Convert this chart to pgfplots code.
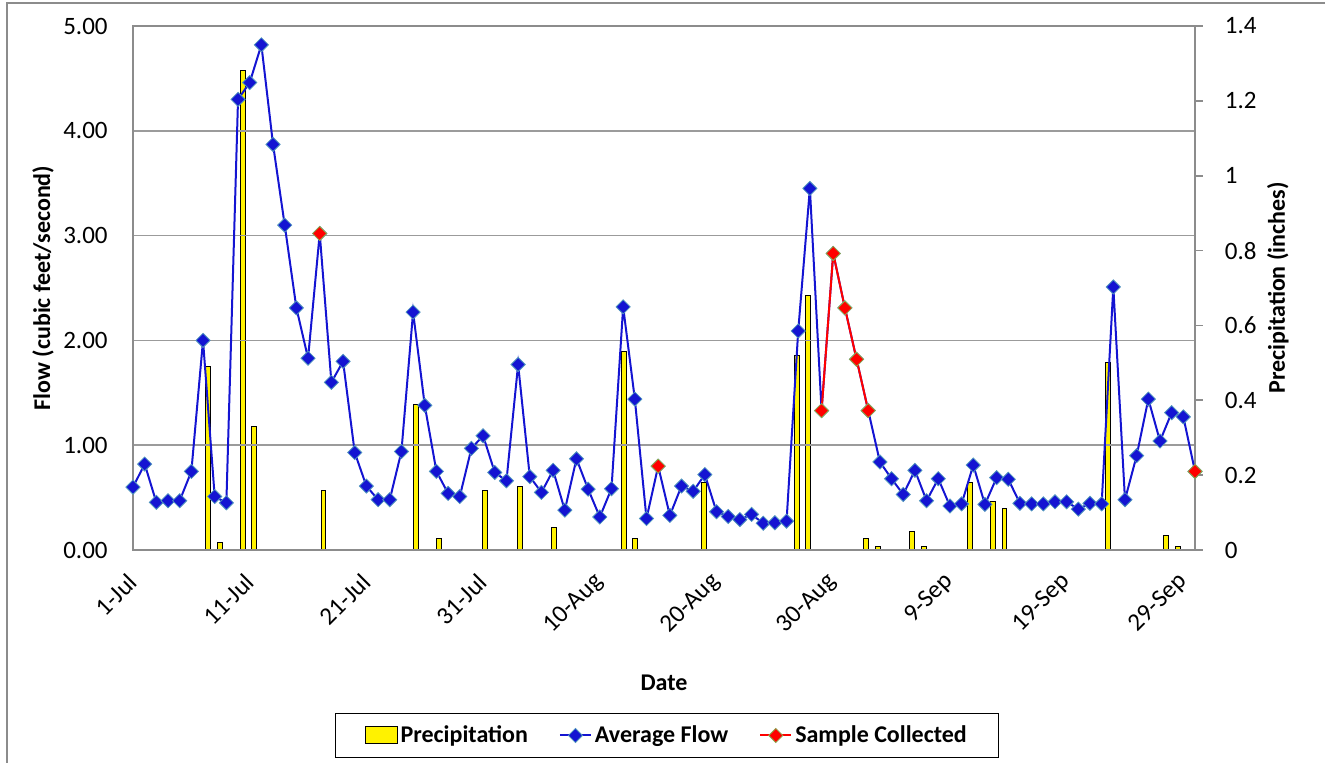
\documentclass[border=0pt]{standalone}
\usepackage{pgfplots}
\pgfplotsset{compat=1.18}
\usepackage{fontspec}
\setmainfont{Carlito}
\definecolor{flowblue}{RGB}{20,20,210}
\definecolor{markedge}{RGB}{80,150,190}
\definecolor{redline}{RGB}{255,0,0}
\definecolor{rededge}{RGB}{140,170,80}
\definecolor{axgray}{RGB}{140,140,140}
\definecolor{gridgray}{RGB}{155,155,155}
\begin{document}
\begin{tikzpicture}
\pgfplotsset{
 common/.style={
  scale only axis, width=531pt, height=262pt,
  at={(66.5pt,106.5pt)}, anchor=south west,
  xmin=0, xmax=91,
  /pgf/number format/assume math mode=true,
  tick label style={font=\fontsize{12.5}{14}\selectfont},
  label style={font=\bfseries\fontsize{12}{14}\selectfont},
  axis line style={axgray, line width=0.8pt},
  every tick/.style={axgray, line width=0.8pt},
 }
}
% secondary axis: precipitation (bars, right)
\begin{axis}[common,
  axis x line=none,
  axis y line*=right,
  ymin=0, ymax=1.4,
  ytick={0,0.2,0.4,0.6,0.8,1,1.2,1.4},
  tick align=outside,
  major tick length=3.75pt,
  yticklabel style={inner sep=0pt, anchor=west},
  yticklabel shift=11pt,
  ylabel={Precipitation (inches)},
  ylabel style={at={(axis description cs:1.078,0.5)}, anchor=center, rotate=0},
]
\addplot[ybar, bar width=0.42, fill=yellow, draw=black, line width=0.5pt]
 table[x expr={(\thisrow{d}+0.5)*91/92}, y=p] {
d p
6 0.49
7 0.02
9 1.28
10 0.33
16 0.16
24 0.39
26 0.03
30 0.16
33 0.17
36 0.06
42 0.53
43 0.03
49 0.18
57 0.52
58 0.68
63 0.03
64 0.01
67 0.05
68 0.01
72 0.18
74 0.13
75 0.11
84 0.50
89 0.04
90 0.01
};
\end{axis}
% primary axis: flow
\begin{axis}[common,
  clip=false,
  major tick length=0pt,
  ymin=0, ymax=5,
  ytick={0,1,2,3,4,5},
  ymajorgrids,
  grid style={gridgray, line width=0.8pt},
  yticklabel style={inner sep=0pt, anchor=east, /pgf/number format/.cd, fixed, fixed zerofill, precision=2},
  yticklabel shift=12.5pt,
  xtick={0,10,20,30,40,50,60,70,80,90},
  xticklabels={1-Jul,11-Jul,21-Jul,31-Jul,10-Aug,20-Aug,30-Aug,9-Sep,19-Sep,29-Sep},
  xticklabel style={rotate=45, anchor=east, inner sep=0pt},
  xticklabel shift=14pt,
  xlabel={Date},
  xlabel style={at={(axis description cs:0.5,0)}, anchor=center, yshift=-66.5pt},
  ylabel={Flow (cubic feet/second)},
  ylabel style={at={(axis description cs:-0.0847,0.5)}, anchor=center},
  legend columns=3,
  legend image code/.code={\draw[mark repeat=2,mark phase=2,#1] plot coordinates {(0pt,0pt) (7.75pt,0pt) (15.5pt,0pt)};},
  legend style={at={(0.503,-0.354)}, anchor=center, draw=black, line width=0.6pt,
    font=\bfseries\fontsize{12}{14}\selectfont, inner xsep=14.5pt, inner ysep=4pt,
    nodes={inner xsep=1.5pt},
    /tikz/every even column/.append style={column sep=14pt}},
]
\addlegendimage{legend image code/.code={\draw[fill=yellow,draw=black,line width=0.5pt] (0pt,-4.25pt) rectangle (16pt,4.25pt);}}
\addlegendentry{Precipitation}
\addplot[flowblue, line width=1pt, mark=square*, mark size=2.5pt,
  mark options={rotate=45, fill=flowblue, draw=markedge, line width=0.4pt}]
 table[x=d, y=f] {
d f
0 0.60
1 0.82
2 0.455
3 0.47
4 0.47
5 0.75
6 2.00
7 0.51
8 0.45
9 4.30
10 4.46
11 4.82
12 3.87
13 3.10
14 2.31
15 1.83
16 3.02
17 1.60
18 1.80
19 0.93
20 0.61
21 0.48
22 0.48
23 0.94
24 2.27
25 1.38
26 0.75
27 0.54
28 0.51
29 0.97
30 1.09
31 0.74
32 0.66
33 1.77
34 0.70
35 0.55
36 0.76
37 0.38
38 0.87
39 0.58
40 0.315
41 0.585
42 2.32
43 1.44
44 0.30
45 0.80
46 0.33
47 0.61
48 0.56
49 0.72
50 0.365
51 0.32
52 0.29
53 0.34
54 0.255
55 0.26
56 0.275
57 2.09
58 3.45
59 1.33
60 2.83
61 2.31
62 1.82
63 1.33
64 0.84
65 0.68
66 0.53
67 0.76
68 0.47
69 0.68
70 0.42
71 0.44
72 0.81
73 0.435
74 0.69
75 0.675
76 0.445
77 0.44
78 0.44
79 0.46
80 0.46
81 0.39
82 0.445
83 0.44
84 2.51
85 0.48
86 0.90
87 1.44
88 1.04
89 1.31
90 1.27
91 0.75
};
\addlegendentry{Average Flow}
\addplot[redline, line width=1pt, mark=square*, mark size=2.5pt, unbounded coords=jump,
  mark options={rotate=45, fill=redline, draw=rededge, line width=0.4pt}]
 coordinates {(16,3.02) (17,nan) (45,0.80) (46,nan) (59,1.33) (60,2.83) (61,2.31) (62,1.82) (63,1.33) (64,nan) (91,0.75)};
\addlegendentry{Sample Collected}
\end{axis}
\draw[axgray, line width=0.75pt] (3.5pt,0pt) -- (3.5pt,380pt) -- (662.5pt,380pt);
\pgfresetboundingbox
\path (0pt,0pt) rectangle (662.5pt,381.5pt);
\end{tikzpicture}
\end{document}
